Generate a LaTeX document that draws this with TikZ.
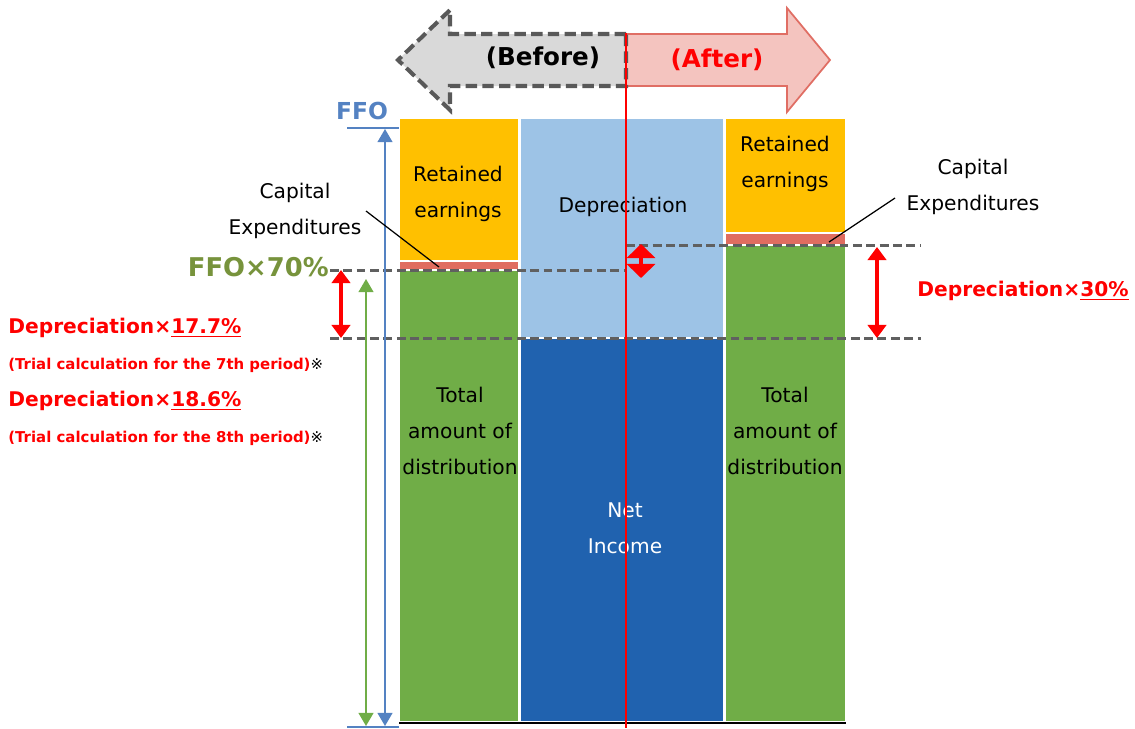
\documentclass[tikz,border=0pt]{standalone}
\usepackage{fontspec}
\setmainfont{DejaVu Sans}
\usetikzlibrary{positioning}
\usetikzlibrary{arrows.meta}

\definecolor{cOrange}{HTML}{FFC000}
\definecolor{cCapex}{RGB}{224,109,96}
\definecolor{cGreen}{HTML}{70AD47}
\definecolor{cSky}{HTML}{9DC3E6}
\definecolor{cNavy}{RGB}{32,98,175}
\definecolor{ffoBlue}{RGB}{84,130,194}
\definecolor{ffoGreen}{HTML}{77933C}
\definecolor{guideGray}{HTML}{606060}
\definecolor{beforeFill}{HTML}{D9D9D9}
\definecolor{beforeEdge}{HTML}{595959}
\definecolor{afterFill}{RGB}{244,196,191}
\definecolor{afterEdge}{RGB}{224,110,100}

\tikzset{
  bar/.style={draw=white, line width=0.6pt},
  lbl/.style={font=\fontsize{11.5}{20.7}\selectfont, align=center, inner sep=0pt},
  hot/.style={font=\bfseries\fontsize{11.5}{14}\selectfont, text=red, inner sep=0pt},
  note/.style={font=\bfseries\fontsize{8.5}{10}\selectfont, text=red, inner sep=0pt},
  guide/.style={draw=guideGray, line width=1.7pt, dash pattern=on 5pt off 2.6pt},
  leader/.style={draw=black, line width=0.7pt},
  redspan/.style={draw=red, line width=2.8pt, {Triangle[width=10.5pt,length=7.5pt]}-{Triangle[width=10.5pt,length=7.5pt]}},
  measure/.style={line width=0.9pt, {Triangle[width=8.5pt,length=7.5pt]}-{Triangle[width=8.5pt,length=7.5pt]}}
}

\begin{document}
\begin{tikzpicture}[x=0.02cm, y=-0.02cm]
    \useasboundingbox (0,0) rectangle (1135,728);

    % bars
    \path[bar, fill=cOrange] (399,118) rectangle (519,261);
    \path[bar, fill=cCapex] (399,261) rectangle (519,270);
    \path[bar, fill=cGreen] (399,270) rectangle (519,722);
    \path[bar, fill=cSky] (520,118) rectangle (724,338);
    \path[bar, fill=cNavy] (520,338) rectangle (724,722);
    \path[bar, fill=cOrange] (725,118) rectangle (846,233);
    \path[bar, fill=cCapex] (725,233) rectangle (846,245);
    \path[bar, fill=cGreen] (725,245) rectangle (846,722);
    \draw[line width=1.2pt] (399,723) -- (846,723);

    \node[lbl] (keepL) at (458,194) {Retained\\earnings};
    \node[lbl] (keepR) at (785,164) {Retained\\earnings};
    \node[lbl] (dep) at (623,207) {Depreciation};
    \node[lbl] (distL) at (460,431) {Total\\amount of\\distribution};
    \node[lbl] (distR) at (785,431) {Total\\amount of\\distribution};
    \node[lbl, text=white] (income) at (625,528) {Net\\Income};

    % guide lines
    \coordinate (g70a) at (330,270);
    \coordinate (g70b) at (626,270);
    \coordinate (gdepa) at (330,338);
    \coordinate (gdepb) at (921,338);
    \coordinate (g30a) at (626,245);
    \coordinate (g30b) at (921,245);
    \draw[guide] (g70a) -- (g70b);
    \draw[guide] (gdepa) -- (gdepb);
    \draw[guide] (g30a) -- (g30b);

    % before / after
    \filldraw[fill=afterFill, draw=afterEdge, line width=1pt]
        (626,34) -- (787,34) -- (787,8) -- (830,60) -- (787,112) -- (787,86) -- (626,86) -- cycle;
    \filldraw[fill=beforeFill, draw=beforeEdge, line width=2.3pt, dash pattern=on 6.5pt off 3pt]
        (626,34) -- (450,34) -- (450,10) -- (398,60) -- (450,110) -- (450,86) -- (626,86) -- cycle;
    \node[font=\bfseries\fontsize{14}{16}\selectfont] (before) at (543,58) {(Before)};
    \node[font=\bfseries\fontsize{14}{16}\selectfont, text=red] (after) at (717,60) {(After)};
    \draw[red, line width=1.1pt] (626,33) -- (626,728);

    % FFO
    \node[font=\bfseries\fontsize{13.3}{15}\selectfont, text=ffoBlue] (ffo) at (362,111) {FFO};
    \coordinate (ffoTop) at (385,129);
    \coordinate (ffoBot) at (385,726);
    \draw[ffoBlue, line width=1.1pt] (347,128) -- (399,128);
    \draw[ffoBlue, line width=1.1pt] (347,727) -- (399,727);
    \draw[measure, ffoBlue] (ffoTop) -- (ffoBot);
    \node[font=\bfseries\fontsize{14.7}{16}\selectfont, text=ffoGreen, anchor=east, inner sep=0pt] (ffo70) at (329,267) {FFO×70\%};
    \coordinate (p70Top) at (366,279);
    \coordinate (p70Bot) at (366,726);
    \draw[measure, cGreen] (p70Top) -- (p70Bot);

    % depreciation spans
    \coordinate (spanLa) at (341,270);
    \coordinate (spanLb) at (341,338);
    \coordinate (spanRa) at (877,247);
    \coordinate (spanRb) at (877,338);
    \coordinate (spanMa) at (641,244);
    \coordinate (spanMb) at (641,278);
    \draw[redspan] (spanLa) -- (spanLb);
    \draw[redspan] (spanRa) -- (spanRb);
    \draw[draw=red, line width=2.8pt, {Triangle[width=16pt,length=8pt]}-{Triangle[width=16pt,length=8pt]}] (spanMa) -- (spanMb);

    \node[hot] (dep30) at (1023,291) {Depreciation×\underline{30\%}};
    \node[hot, anchor=west] (dep177) at (8,328) {Depreciation×\underline{17.7\%}};
    \node[note, anchor=west] (trial7) at (8,365) {(Trial calculation for the 7th period){\mdseries\color{black}※}};
    \node[hot, anchor=west] (dep186) at (8,401) {Depreciation×\underline{18.6\%}};
    \node[note, anchor=west] (trial8) at (8,438) {(Trial calculation for the 8th period){\mdseries\color{black}※}};

    % capital expenditures
    \node[lbl] (capexL) at (295,211) {Capital\\Expenditures};
    \node[lbl] (capexR) at (973,187) {Capital\\Expenditures};
    \coordinate (capexLa) at (366,211);
    \coordinate (capexLb) at (439,267);
    \coordinate (capexRa) at (895,198);
    \coordinate (capexRb) at (829,242);
    \draw[leader] (capexLa) -- (capexLb);
    \draw[leader] (capexRa) -- (capexRb);
\end{tikzpicture}
\end{document}
